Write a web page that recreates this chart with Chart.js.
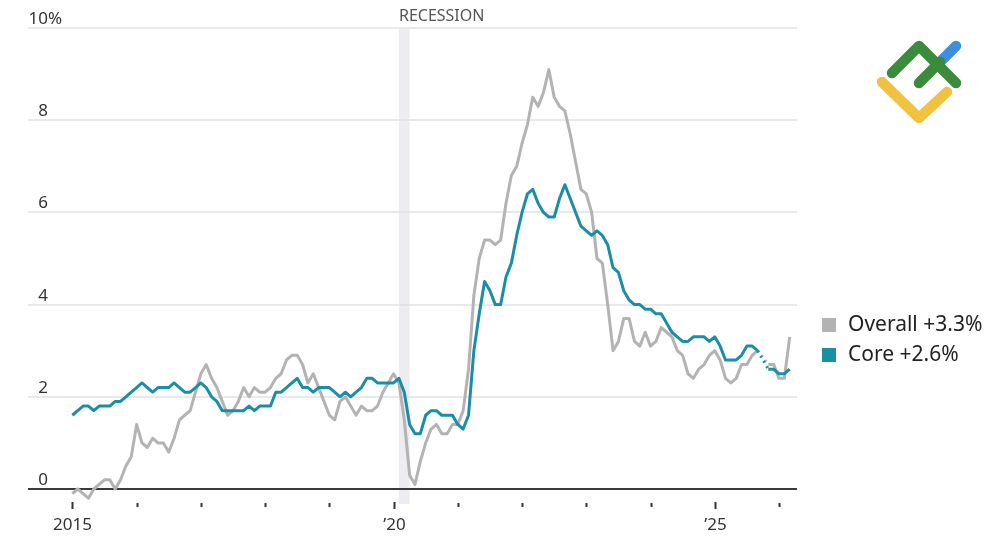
<!DOCTYPE html>
<html>
<head>
<meta charset="utf-8">
<style>
  html, body { margin: 0; padding: 0; background: #fff; }
  #wrap { width: 1000px; height: 545px; }
</style>
<script src="https://cdn.jsdelivr.net/npm/chart.js@4"></script>
</head>
<body>
<div id="wrap"><canvas id="chart" width="1000" height="545"></canvas></div>
<script>
// year-over-year change, monthly, Jan 2015 .. Mar 2026 (Oct 2025 missing)
const overall = [
  -0.1, 0.0, -0.1, -0.2, 0.0, 0.1, 0.2, 0.2, 0.0, 0.2, 0.5, 0.7,
  1.4, 1.0, 0.9, 1.1, 1.0, 1.0, 0.8, 1.1, 1.5, 1.6, 1.7, 2.1,
  2.5, 2.7, 2.4, 2.2, 1.9, 1.6, 1.7, 1.9, 2.2, 2.0, 2.2, 2.1,
  2.1, 2.2, 2.4, 2.5, 2.8, 2.9, 2.9, 2.7, 2.3, 2.5, 2.2, 1.9,
  1.6, 1.5, 1.9, 2.0, 1.8, 1.6, 1.8, 1.7, 1.7, 1.8, 2.1, 2.3,
  2.5, 2.3, 1.5, 0.3, 0.1, 0.6, 1.0, 1.3, 1.4, 1.2, 1.2, 1.4,
  1.4, 1.7, 2.6, 4.2, 5.0, 5.4, 5.4, 5.3, 5.4, 6.2, 6.8, 7.0,
  7.5, 7.9, 8.5, 8.3, 8.6, 9.1, 8.5, 8.3, 8.2, 7.7, 7.1, 6.5,
  6.4, 6.0, 5.0, 4.9, 4.0, 3.0, 3.2, 3.7, 3.7, 3.2, 3.1, 3.4,
  3.1, 3.2, 3.5, 3.4, 3.3, 3.0, 2.9, 2.5, 2.4, 2.6, 2.7, 2.9,
  3.0, 2.8, 2.4, 2.3, 2.4, 2.7, 2.7, 2.9, 3.0, null, 2.7, 2.7,
  2.4, 2.4, 3.3
];
const core = [
  1.6, 1.7, 1.8, 1.8, 1.7, 1.8, 1.8, 1.8, 1.9, 1.9, 2.0, 2.1,
  2.2, 2.3, 2.2, 2.1, 2.2, 2.2, 2.2, 2.3, 2.2, 2.1, 2.1, 2.2,
  2.3, 2.2, 2.0, 1.9, 1.7, 1.7, 1.7, 1.7, 1.7, 1.8, 1.7, 1.8,
  1.8, 1.8, 2.1, 2.1, 2.2, 2.3, 2.4, 2.2, 2.2, 2.1, 2.2, 2.2,
  2.2, 2.1, 2.0, 2.1, 2.0, 2.1, 2.2, 2.4, 2.4, 2.3, 2.3, 2.3,
  2.3, 2.4, 2.1, 1.4, 1.2, 1.2, 1.6, 1.7, 1.7, 1.6, 1.6, 1.6,
  1.4, 1.3, 1.6, 3.0, 3.8, 4.5, 4.3, 4.0, 4.0, 4.6, 4.9, 5.5,
  6.0, 6.4, 6.5, 6.2, 6.0, 5.9, 5.9, 6.3, 6.6, 6.3, 6.0, 5.7,
  5.6, 5.5, 5.6, 5.5, 5.3, 4.8, 4.7, 4.3, 4.1, 4.0, 4.0, 3.9,
  3.9, 3.8, 3.8, 3.6, 3.4, 3.3, 3.2, 3.2, 3.3, 3.3, 3.3, 3.2,
  3.3, 3.1, 2.8, 2.8, 2.8, 2.9, 3.1, 3.1, 3.0, null, 2.6, 2.6,
  2.5, 2.5, 2.6
];
const yTicks = [0, 2, 4, 6, 8, 10];
const yTickLabels = ['0', '2', '4', '6', '8', '10'];
const yearTicks = [0, 12, 24, 36, 48, 60, 72, 84, 96, 108, 120, 132]; // months since Jan 2015
const yearLabels = { 0: '2015', 60: '\u201920', 120: '\u201925' };
const recession = [61, 63]; // Feb 2020 .. Apr 2020
const legendItems = [
  { text: 'Overall +3.3%', color: '#b3b3b3' },
  { text: 'Core +2.6%', color: '#1a8ea5' }
];

const FONT = '"Noto Sans", "Open Sans", sans-serif';
const toPoints = arr => arr.map((v, i) => ({ x: i, y: v }));
const gap = (ctx, val) => (ctx.p0.skip || ctx.p1.skip ? val : undefined);

const decor = {
  id: 'decor',
  beforeDatasetsDraw(chart) {
    const { ctx, chartArea: a, scales: { x, y } } = chart;
    ctx.save();
    // recession band
    const x0 = x.getPixelForValue(recession[0]);
    const x1 = x.getPixelForValue(recession[1]);
    ctx.fillStyle = '#ececf1';
    ctx.fillRect(x0, a.top + 1, x1 - x0, 503 - a.top);
    // gridlines
    yTicks.forEach(v => {
      const py = Math.round(y.getPixelForValue(v));
      ctx.beginPath();
      if (v === 0) { ctx.strokeStyle = '#3a3a3a'; ctx.lineWidth = 2; }
      else { ctx.strokeStyle = '#e2e2e2'; ctx.lineWidth = 1.5; }
      ctx.moveTo(a.left, py);
      ctx.lineTo(a.right, py);
      ctx.stroke();
    });
    ctx.restore();
  },
  afterDraw(chart) {
    const { ctx, scales: { x, y } } = chart;
    ctx.save();
    // y labels, sitting on top of the gridlines
    ctx.fillStyle = '#333';
    ctx.font = '17px ' + FONT;
    ctx.textBaseline = 'alphabetic';
    yTicks.forEach((v, i) => {
      const py = y.getPixelForValue(v) - 4;
      ctx.textAlign = 'right';
      ctx.fillText(yTickLabels[i], 48, py);
      if (v === 10) { ctx.textAlign = 'left'; ctx.fillText('%', 48, py); }
    });
    // x ticks
    ctx.strokeStyle = '#333';
    ctx.lineWidth = 2;
    yearTicks.forEach(m => {
      const px = Math.round(x.getPixelForValue(m)) + 0.5;
      const major = yearLabels[m] !== undefined;
      ctx.beginPath();
      ctx.moveTo(px, major ? 502 : 503);
      ctx.lineTo(px, major ? 509 : 507);
      ctx.stroke();
      if (major) {
        ctx.textAlign = 'center';
        ctx.textBaseline = 'middle';
        ctx.fillText(yearLabels[m], px, 525);
      }
    });
    // recession label
    ctx.fillStyle = '#555';
    ctx.font = '16px ' + FONT;
    ctx.textAlign = 'left';
    ctx.textBaseline = 'middle';
    ctx.fillText('RECESSION', x.getPixelForValue(recession[0]), 16);
    // legend
    ctx.font = '21px ' + FONT;
    legendItems.forEach((it, i) => {
      const cy = 325 + i * 30;
      ctx.fillStyle = it.color;
      ctx.fillRect(822, cy - 7, 14, 14);
      ctx.fillStyle = '#222';
      ctx.fillText(it.text, 848, cy);
    });
    // logo
    ctx.lineWidth = 10.5;
    ctx.lineCap = 'round';
    ctx.lineJoin = 'round';
    const stroke = (c, pts) => {
      ctx.strokeStyle = c;
      ctx.beginPath();
      ctx.moveTo(pts[0][0], pts[0][1]);
      pts.slice(1).forEach(p => ctx.lineTo(p[0], p[1]));
      ctx.stroke();
    };
    stroke('#3d8fdc', [[940, 62], [956, 46]]);
    stroke('#f1c23f', [[882, 82], [919, 118], [947, 92]]);
    stroke('#3a8c3c', [[892, 73], [919, 46], [956, 83]]);
    stroke('#3a8c3c', [[919, 83], [940, 62]]);
    ctx.restore();
  }
};

new Chart(document.getElementById('chart'), {
  type: 'line',
  data: {
    datasets: [
      {
        label: 'Core',
        data: toPoints(core),
        borderColor: '#1a8ea5',
        borderWidth: 3,
        order: 1,
        segment: { borderDash: ctx => gap(ctx, [2, 4]) }
      },
      {
        label: 'Overall',
        data: toPoints(overall),
        borderColor: '#b3b3b3',
        borderWidth: 3,
        order: 2,
        segment: { borderDash: ctx => gap(ctx, [2, 4]) }
      }
    ]
  },
  options: {
    responsive: false,
    animation: false,
    spanGaps: true,
    layout: { padding: { left: 28, top: 28, right: 203, bottom: 56 } },
    elements: { point: { radius: 0 }, line: { tension: 0, borderJoinStyle: 'round' } },
    datasets: { line: { clip: false } },
    plugins: { legend: { display: false }, tooltip: { enabled: false } },
    scales: {
      x: { type: 'linear', min: -8.29, max: 135.36, display: false },
      y: { min: 0, max: 10, display: false }
    }
  },
  plugins: [decor]
});
</script>
</body>
</html>
